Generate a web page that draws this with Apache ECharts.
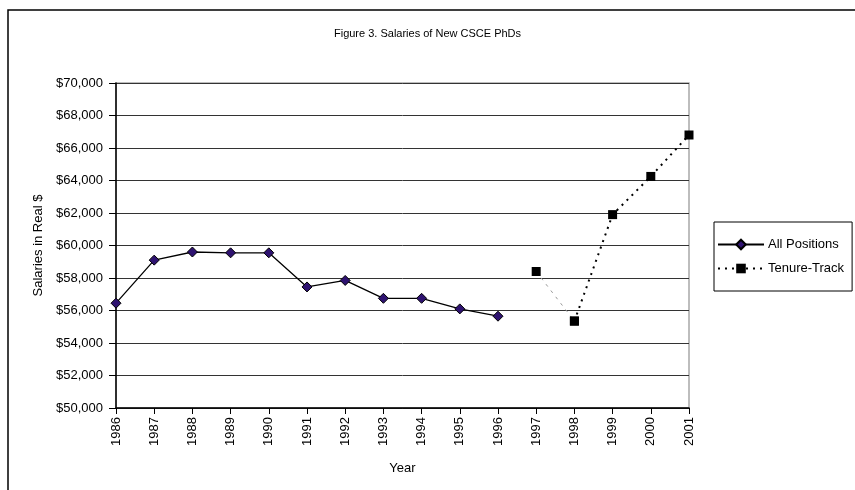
<!DOCTYPE html>
<html>
<head>
<meta charset="utf-8">
<style>
  html, body { margin: 0; padding: 0; background: #fff; }
  #chart { width: 855px; height: 490px; }
</style>
<script src="https://cdn.jsdelivr.net/npm/echarts@6/dist/echarts.min.js"></script>
</head>
<body>
<div id="chart"></div>
<script>
const years = ['1986', '1987', '1988', '1989', '1990', '1991', '1992', '1993',
  '1994', '1995', '1996', '1997', '1998', '1999', '2000', '2001']
const allPositions = [56450, 59100, 59600, 59550, 59550, 57450, 57850, 56750,
  56750, 56100, 55650, null, null, null, null, null]
const tenureTrack = [null, null, null, null, null, null, null, null,
  null, null, null, 58400, 55350, 61900, 64250, 66800]

const font = '"Liberation Sans", Arial, sans-serif'

// 1997 -> 1998 is drawn as a thin grey dashed segment, the rest dotted black
const ttGap = tenureTrack.map((v, i) => (years[i] === '1997' || years[i] === '1998') ? v : null)
const ttMain = tenureTrack.map((v, i) => years[i] === '1997' ? null : v)

const myChart = echarts.init(document.getElementById('chart'))
let option = {
  animation: false,
  textStyle: { fontFamily: font, color: '#000' },
  title: {
    text: 'Figure 3. Salaries of New CSCE PhDs',
    left: 'center',
    top: 23,
    textStyle: { fontFamily: font, fontSize: 11, fontWeight: 'normal', color: '#000' }
  },
  graphic: [{
    type: 'rect',
    shape: { x: 8, y: 10, width: 900, height: 600 },
    style: { fill: 'none', stroke: '#000', lineWidth: 1.5 },
    silent: true
  }],
  legend: {
    orient: 'vertical',
    left: 714,
    top: 222,
    data: ['All Positions', 'Tenure-Track'],
    itemWidth: 46,
    itemHeight: 12,
    itemGap: 11,
    padding: [16, 8, 16, 3],
    borderColor: '#000',
    borderWidth: 1,
    textStyle: { fontFamily: font, fontSize: 13, color: '#000', padding: [0, 0, 0, -1] }
  },
  grid: {
    left: 116,
    right: 166,
    top: 83,
    bottom: 82,
    show: true,
    borderColor: '#a8a8a8',
    borderWidth: 1.5
  },
  xAxis: {
    type: 'category',
    data: years,
    boundaryGap: false,
    name: 'Year',
    nameLocation: 'middle',
    nameGap: 54,
    nameTextStyle: { fontFamily: font, fontSize: 13, color: '#000' },
    axisLine: { lineStyle: { color: '#000', width: 1.5 } },
    axisTick: { alignWithLabel: true, length: 6, lineStyle: { color: '#000' } },
    axisLabel: { rotate: 90, fontFamily: font, fontSize: 13, color: '#000', margin: 9 }
  },
  yAxis: {
    type: 'value',
    min: 50000,
    max: 70000,
    interval: 2000,
    name: 'Salaries in Real $',
    nameLocation: 'middle',
    nameGap: 66,
    nameTextStyle: { fontFamily: font, fontSize: 13, color: '#000' },
    axisLine: { show: true, lineStyle: { color: '#000', width: 1.5 } },
    axisTick: { show: true, length: 7, lineStyle: { color: '#000' } },
    axisLabel: {
      fontFamily: font, fontSize: 13, color: '#000', margin: 13,
      formatter: v => '$' + v.toLocaleString('en-US')
    },
    splitLine: { lineStyle: { color: '#333', width: 1 } }
  },
  series: [
    {
      name: 'All Positions',
      type: 'line',
      data: allPositions,
      symbol: 'diamond',
      symbolSize: 10,
      color: '#2e1270',
      itemStyle: { color: '#2e1270', borderColor: '#000', borderWidth: 1 },
      lineStyle: { color: '#000', width: 1.3 }
    },
    {
      name: 'Tenure-Track',
      type: 'line',
      data: ttMain,
      symbol: 'rect',
      symbolSize: 9,
      color: '#000',
      itemStyle: { color: '#000' },
      lineStyle: { color: '#000', width: 2, type: [2, 5] }
    },
    {
      name: 'tt-gap',
      type: 'line',
      data: ttGap,
      symbol: 'rect',
      symbolSize: 9,
      itemStyle: { color: '#000' },
      lineStyle: { color: '#999', width: 1, type: [3, 5] },
      z: 1
    }
  ]
}
myChart.setOption(option)
</script>
</body>
</html>
